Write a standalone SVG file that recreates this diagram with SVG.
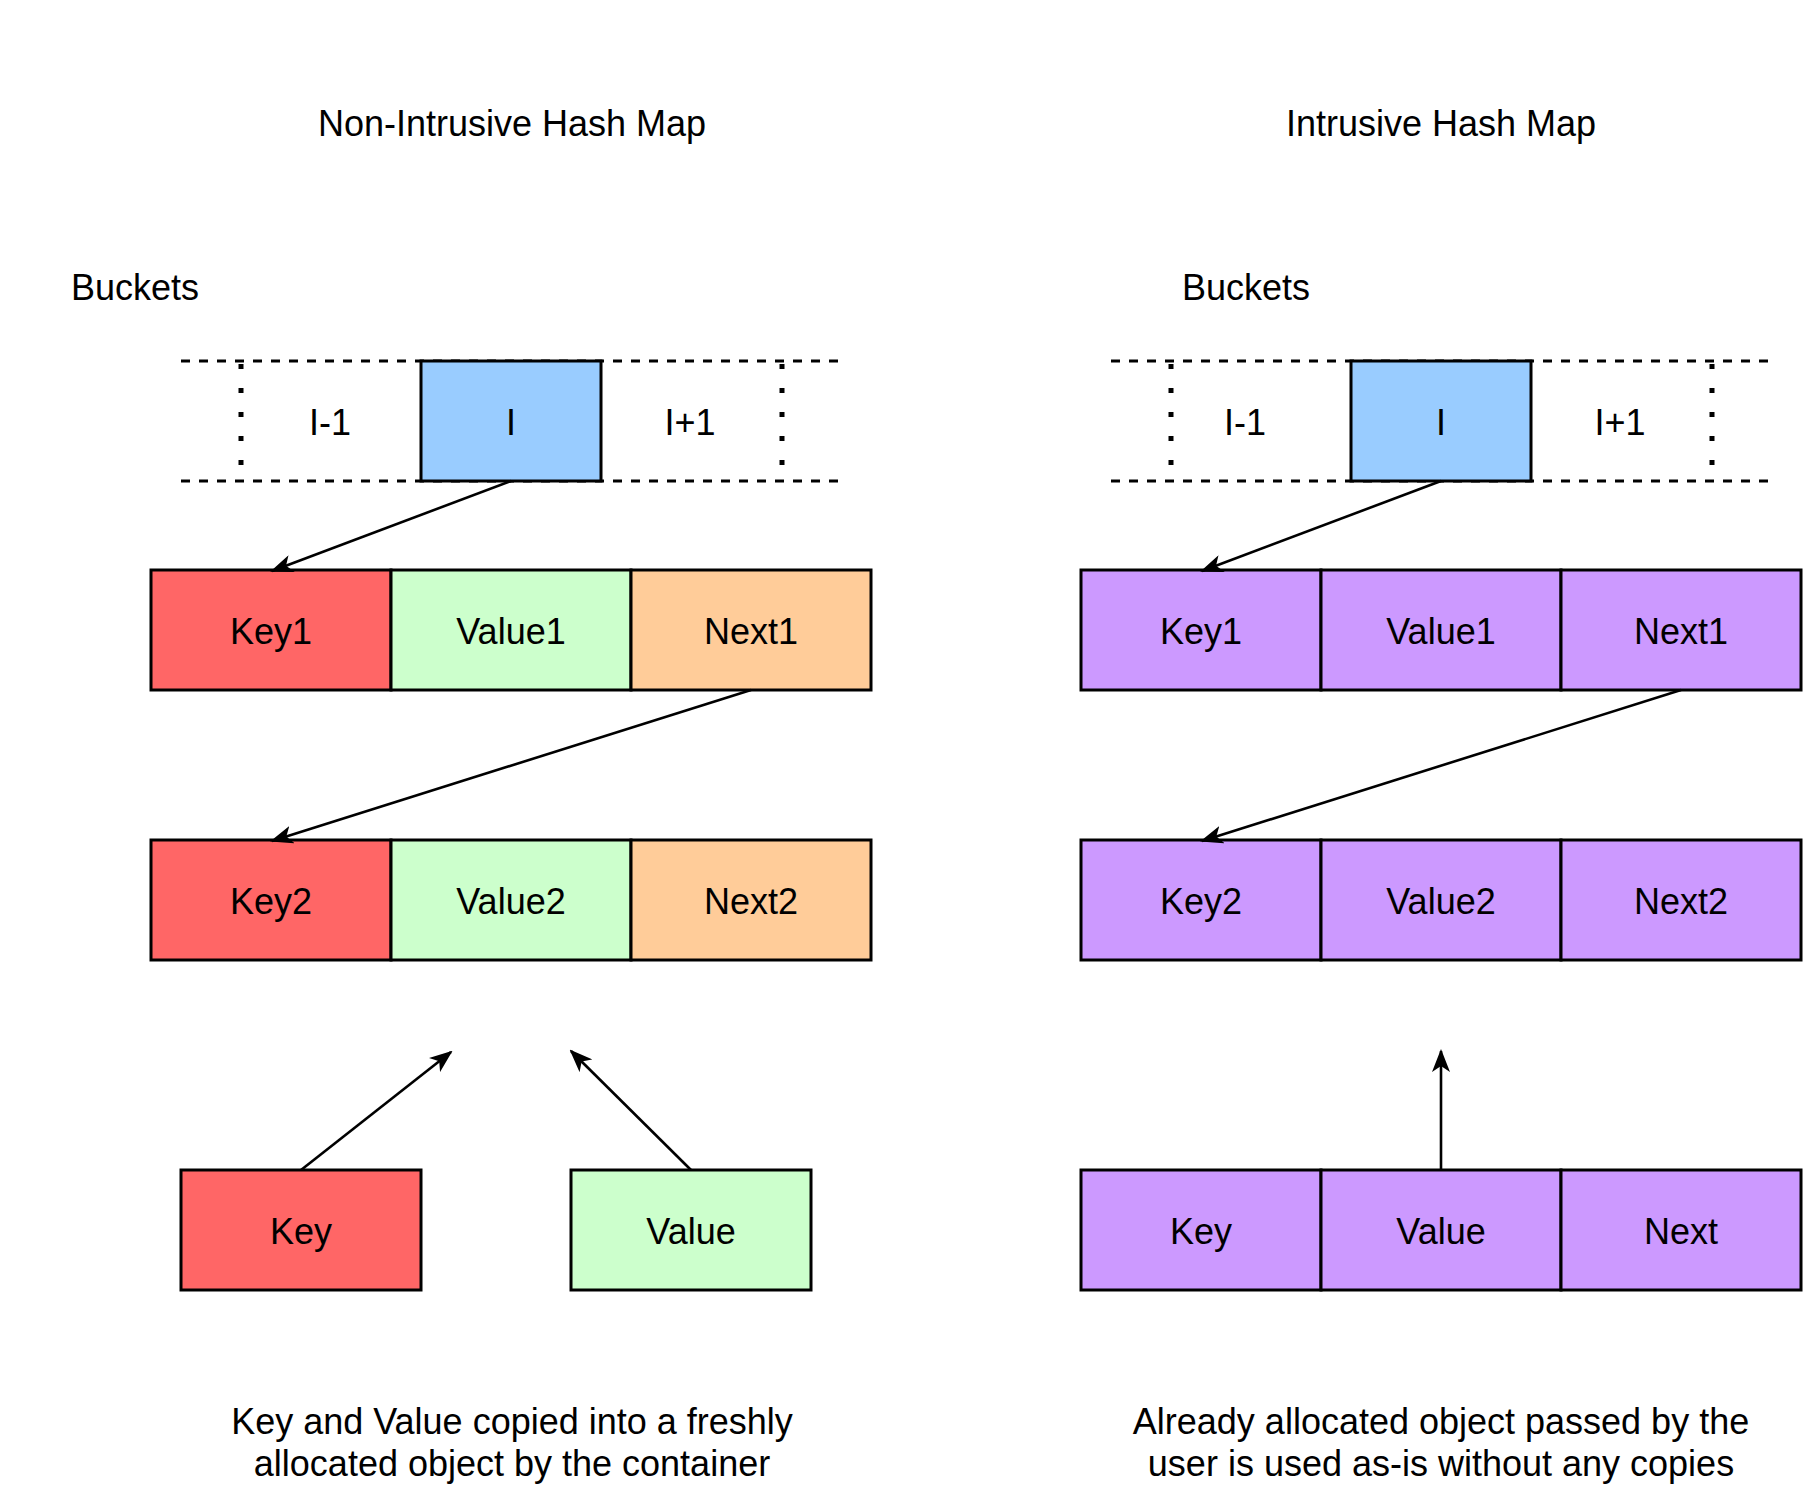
<svg xmlns="http://www.w3.org/2000/svg" width="1803" height="1485" viewBox="0 0 1803 1485">
<style>
text{font-family:"Liberation Sans",Arial,Helvetica,sans-serif;font-size:36px;fill:#000;text-anchor:middle}
.lbl{text-anchor:start}
.cell{stroke:#000;stroke-width:3}
.red{fill:#FF6666}.green{fill:#CCFFCC}.orange{fill:#FFCC99}.blue{fill:#99CCFF}.purple{fill:#CC99FF}
.dash{stroke:#000;stroke-width:3;stroke-dasharray:9 9;fill:none}
.dot{stroke:#000;stroke-width:5;stroke-dasharray:5 19;fill:none}
.conn{stroke:#000;stroke-width:2.6;fill:none;marker-end:url(#arr)}
</style>
<defs>
<marker id="arr" markerUnits="userSpaceOnUse" viewBox="0 0 23 18" markerWidth="23" markerHeight="18" refX="21" refY="9" orient="auto">
<path d="M0,0 L23,9 L0,18 L6,9 z" fill="#000"/>
</marker>
</defs>
<rect width="1803" height="1485" fill="#fff"/>

<g id="titles">
<text x="512" y="136">Non-Intrusive Hash Map</text>
<text x="1441" y="136">Intrusive Hash Map</text>
<text class="lbl" x="71" y="300">Buckets</text>
<text class="lbl" x="1182" y="300">Buckets</text>
</g>

<g id="buckets-left">
<line class="dash" x1="181" y1="361" x2="842" y2="361"/>
<line class="dash" x1="181" y1="481" x2="842" y2="481"/>
<line class="dot" x1="241" y1="364" x2="241" y2="481"/>
<line class="dot" x1="782" y1="364" x2="782" y2="481"/>
<text x="330" y="435">I-1</text>
<text x="690" y="435">I+1</text>
</g>
<g id="bucket-left-I">
<rect class="cell blue" x="421" y="361" width="180" height="120"/>
<text x="511" y="435">I</text>
</g>

<g id="buckets-right">
<line class="dash" x1="1111" y1="361" x2="1772" y2="361"/>
<line class="dash" x1="1111" y1="481" x2="1772" y2="481"/>
<line class="dot" x1="1171" y1="364" x2="1171" y2="481"/>
<line class="dot" x1="1712" y1="364" x2="1712" y2="481"/>
<text x="1245" y="435">I-1</text>
<text x="1620" y="435">I+1</text>
</g>
<g id="bucket-right-I">
<rect class="cell blue" x="1351" y="361" width="180" height="120"/>
<text x="1441" y="435">I</text>
</g>

<g id="left-node1">
<rect class="cell red" x="151" y="570" width="240" height="120"/>
<rect class="cell green" x="391" y="570" width="240" height="120"/>
<rect class="cell orange" x="631" y="570" width="240" height="120"/>
<text x="271" y="644">Key1</text>
<text x="511" y="644">Value1</text>
<text x="751" y="644">Next1</text>
</g>
<g id="left-node2">
<rect class="cell red" x="151" y="840" width="240" height="120"/>
<rect class="cell green" x="391" y="840" width="240" height="120"/>
<rect class="cell orange" x="631" y="840" width="240" height="120"/>
<text x="271" y="914">Key2</text>
<text x="511" y="914">Value2</text>
<text x="751" y="914">Next2</text>
</g>
<g id="left-key">
<rect class="cell red" x="181" y="1170" width="240" height="120"/>
<text x="301" y="1244">Key</text>
</g>
<g id="left-value">
<rect class="cell green" x="571" y="1170" width="240" height="120"/>
<text x="691" y="1244">Value</text>
</g>

<g id="right-node1">
<rect class="cell purple" x="1081" y="570" width="240" height="120"/>
<rect class="cell purple" x="1321" y="570" width="240" height="120"/>
<rect class="cell purple" x="1561" y="570" width="240" height="120"/>
<text x="1201" y="644">Key1</text>
<text x="1441" y="644">Value1</text>
<text x="1681" y="644">Next1</text>
</g>
<g id="right-node2">
<rect class="cell purple" x="1081" y="840" width="240" height="120"/>
<rect class="cell purple" x="1321" y="840" width="240" height="120"/>
<rect class="cell purple" x="1561" y="840" width="240" height="120"/>
<text x="1201" y="914">Key2</text>
<text x="1441" y="914">Value2</text>
<text x="1681" y="914">Next2</text>
</g>
<g id="right-object">
<rect class="cell purple" x="1081" y="1170" width="240" height="120"/>
<rect class="cell purple" x="1321" y="1170" width="240" height="120"/>
<rect class="cell purple" x="1561" y="1170" width="240" height="120"/>
<text x="1201" y="1244">Key</text>
<text x="1441" y="1244">Value</text>
<text x="1681" y="1244">Next</text>
</g>

<g id="captions">
<text x="512" y="1434">Key and Value copied into a freshly</text>
<text x="512" y="1476">allocated object by the container</text>
<text x="1441" y="1434">Already allocated object passed by the</text>
<text x="1441" y="1476">user is used as-is without any copies</text>
</g>

<g id="connectors">
<line class="conn" x1="511" y1="481" x2="272" y2="571"/>
<line class="conn" x1="751" y1="690" x2="272" y2="841"/>
<line class="conn" x1="301" y1="1170" x2="451" y2="1052"/>
<line class="conn" x1="691" y1="1170" x2="571" y2="1051"/>
<line class="conn" x1="1441" y1="481" x2="1202" y2="571"/>
<line class="conn" x1="1681" y1="690" x2="1202" y2="841"/>
<line class="conn" x1="1441" y1="1170" x2="1441" y2="1051"/>
</g>
</svg>
